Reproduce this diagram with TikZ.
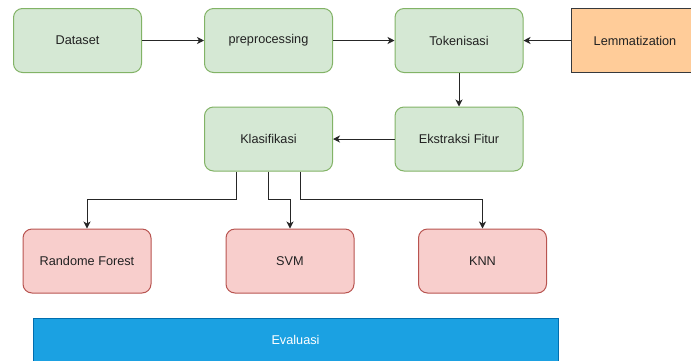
\documentclass[tikz,border=0pt]{standalone}
\usepackage{fontspec}
\setmainfont{Liberation Sans}
\usetikzlibrary{arrows.meta,calc}
\definecolor{gfill}{HTML}{D5E8D4}
\definecolor{gdraw}{HTML}{82B366}
\definecolor{rfill}{HTML}{F8CECC}
\definecolor{rdraw}{HTML}{B85450}
\definecolor{ofill}{HTML}{FFCC99}
\definecolor{odraw}{HTML}{36393D}
\definecolor{bfill}{HTML}{1BA1E2}
\definecolor{bdraw}{HTML}{006EAF}
\definecolor{txt}{HTML}{222222}
\tikzset{
  box/.style={rectangle, rounded corners=9pt, minimum width=128pt, minimum height=64pt, inner sep=0pt,
    font=\fontsize{12.7pt}{14pt}\selectfont, text=txt, line width=1pt},
  greenbox/.style={box, fill=gfill, draw=gdraw},
  redbox/.style={box, fill=rfill, draw=rdraw},
  conn/.style={line width=1pt, draw=black!85, -{Stealth[length=7pt,width=7pt,inset=2pt]}}
}
\begin{document}
\begin{tikzpicture}[x=1pt,y=-1pt]
\useasboundingbox (0,0) rectangle (691,360);
\clip (0,0) rectangle (691,360);
\node[greenbox] (ds) at (77.5,40.5) {Dataset};
\node[greenbox] (pp) at (268.5,40.5) {preprocessing};
\node[greenbox] (tk) at (459,40.5) {Tokenisasi};
\node[box, rounded corners=0pt, fill=ofill, draw=odraw] (lm) at (635,40.5) {Lemmatization};
\node[greenbox] (ef) at (459,139) {Ekstraksi Fitur};
\node[greenbox] (kl) at (268.5,139) {Klasifikasi};
\node[redbox] (rf) at (87,261) {Randome Forest};
\node[redbox] (svm) at (290,261) {SVM};
\node[redbox] (knn) at (482.5,261) {KNN};
\node[rectangle, fill=bfill, draw=bdraw, line width=1pt, minimum width=525pt, minimum height=44pt, inner sep=0pt,
  font=\fontsize{12.7pt}{14pt}\selectfont, text=white] (ev) at (295.5,340) {Evaluasi};
\draw[conn] (ds.east) -- (pp.west);
\draw[conn] (pp.east) -- (tk.west);
\draw[conn] (lm.west) -- (tk.east);
\draw[conn] (tk.south) -- (ef.north);
\draw[conn] (ef.west) -- (kl.east);
\draw[conn] ([xshift=-32pt]kl.south) -- ++(0,28) -| (rf.north);
\draw[conn] (kl.south) -- ++(0,28) -| (svm.north);
\draw[conn] ([xshift=32pt]kl.south) -- ++(0,28) -| (knn.north);
\end{tikzpicture}
\end{document}
